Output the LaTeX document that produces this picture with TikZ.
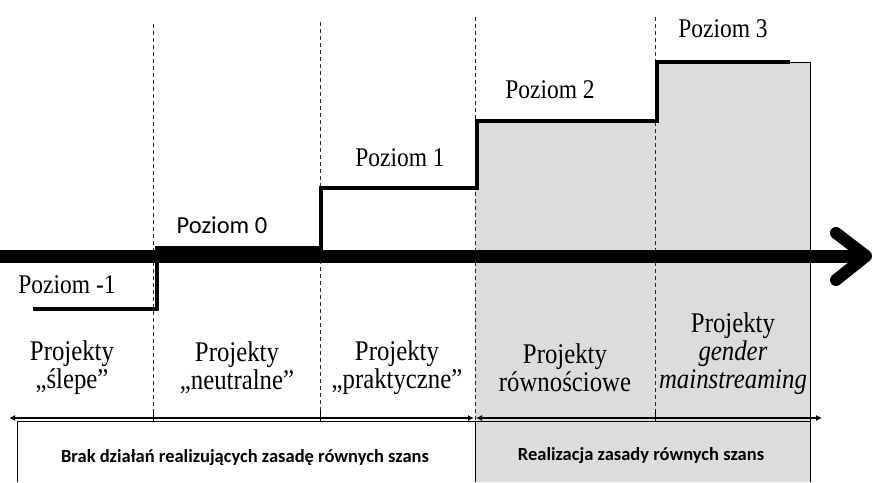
\documentclass[tikz,border=0pt]{standalone}
\usepackage{fontspec}
\setmainfont{Liberation Serif}[FakeStretch=0.87]
\newfontfamily\calibri{Carlito}
\usetikzlibrary{arrows.meta}
\definecolor{bandgray}{HTML}{DCDCDC}
\begin{document}
\begin{tikzpicture}[x=1pt,y=-1pt,
  divider/.style={draw=black!85,line width=0.8pt,dash pattern=on 4pt off 3pt},
  stepline/.style={draw=black,line width=3.2pt,line join=miter},
  lvl/.style={font=\fontsize{27}{29}\selectfont,inner sep=0pt},
  lvlsans/.style={font=\calibri\fontsize{24.5}{27}\selectfont,inner sep=0pt},
  proj/.style={font=\fontsize{28.5}{28}\selectfont,align=center,inner sep=0pt},
  bottomtxt/.style={font=\calibri\bfseries\fontsize{18.5}{20}\selectfont,inner sep=0pt},
  span/.style={line width=2pt,{Latex[length=6pt,width=6pt]}-{Latex[length=6pt,width=6pt]}}]
\useasboundingbox (0,0) rectangle (872,482);
% shaded region
\fill[bandgray] (475,121) -- (655,121) -- (655,62) -- (810,62) -- (810,482) -- (475,482) -- cycle;
\draw[line width=0.8pt] (790,62) -- (810,62) -- (810,482);
% bottom boxes
\coordinate (bl) at (17,482);
\coordinate (btl) at (17,421);
\coordinate (btr) at (810,421);
\coordinate (bmid) at (475,421);
\coordinate (bmidb) at (475,482);
\draw[line width=0.8pt] (bl) -- (btl) -- (btr);
\draw[line width=0.8pt] (bmid) -- (bmidb);
% dividers
\coordinate (d1t) at (153,24);  \coordinate (d1b) at (153,421);
\coordinate (d2t) at (320,22);  \coordinate (d2b) at (320,421);
\coordinate (d3t) at (475,17);  \coordinate (d3b) at (475,421);
\coordinate (d4t) at (655,17);  \coordinate (d4b) at (655,421);
\draw[divider] (d1t) -- (d1b);
\draw[divider] (d2t) -- (d2b);
\draw[divider] (d3t) -- (d3b);
\draw[divider] (d4t) -- (d4b);
\draw[line width=0.8pt] (153,410) -- (153,421);
\draw[line width=0.8pt] (320,410) -- (320,421);
\draw[line width=0.8pt] (655,410) -- (655,421);
% step line
\coordinate (s0) at (33,309);
\coordinate (s1) at (157,309);
\coordinate (s2) at (157,248);
\coordinate (s3) at (321,248);
\coordinate (s4) at (321,188);
\coordinate (s5) at (477,188);
\coordinate (s6) at (477,121);
\coordinate (s7) at (657,121);
\coordinate (s8) at (657,62);
\coordinate (s9) at (790,62);
\draw[stepline] (s0) -- (s1) -- (s2) -- (s3) -- (s4) -- (s5) -- (s6) -- (s7) -- (s8) -- (s9);
% main arrow
\coordinate (ma) at (0,256);
\coordinate (mb) at (860,256);
\coordinate (tip) at (866,256);
\coordinate (armu) at (836,233);
\coordinate (armd) at (836,280);
\draw[line width=13pt] (ma) -- (mb);
\draw[line width=12pt,line cap=round,line join=round] (armu) -- (tip) -- (armd);
% level labels
\node[lvl] (pm1) at (67,285) {Poziom -1};
\node[lvlsans] (p0) at (222,225) {Poziom 0};
\node[lvl] (p1) at (400,158) {Poziom 1};
\node[lvl] (p2) at (550,90) {Poziom 2};
\node[lvl] (p3) at (723,29) {Poziom 3};
% project labels
\node[proj] (c1) at (72,368) {Projekty\\„ślepe”};
\node[proj] (c2) at (237,368) {Projekty\\„neutralne”};
\node[proj] (c3) at (397,368) {Projekty\\„praktyczne”};
\node[proj] (c4) at (565,368) {Projekty\\równościowe};
\node[proj] (c5) at (733,354) {Projekty\\\textit{gender}\\\textit{mainstreaming}};
% spans
\coordinate (a1l) at (9,418); \coordinate (a1r) at (474,418);
\coordinate (a2l) at (476,418); \coordinate (a2r) at (822,418);
\draw[span] (a1l) -- (a1r);
\draw[span] (a2l) -- (a2r);
% bottom texts
\node[bottomtxt] (t1) at (245,458) {Brak działań realizujących zasadę równych szans};
\node[bottomtxt] (t2) at (641,456) {Realizacja zasady równych szans};
\end{tikzpicture}
\end{document}
